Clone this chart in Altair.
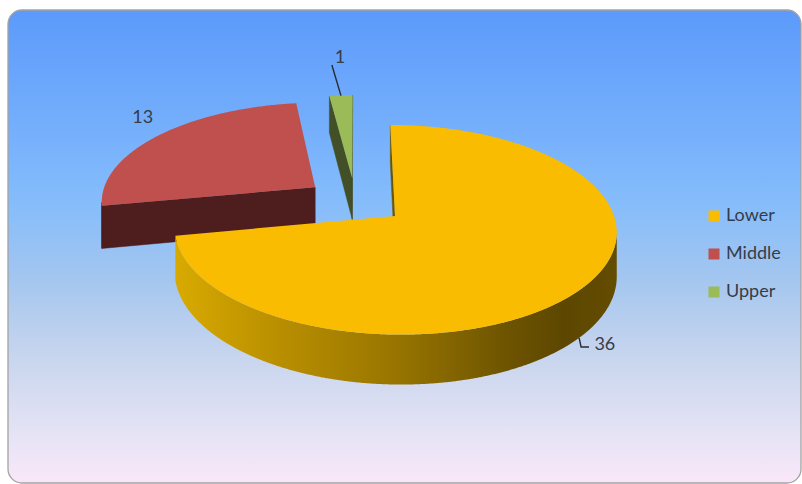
import math
import numpy as np
import pandas as pd
import altair as alt

# ---------------- data ----------------
categories = ["Lower", "Middle", "Upper"]
values = [36, 13, 1]
label_texts = ["36", "13", "1"]

# ---------------- style ----------------
top_colors = ["#f9bc00", "#c0504d", "#9bbb59"]
wall_colors = {"Lower": "#6b5608", "Middle": "#4e1e1e", "Upper": "#434f26"}
side_solid = {"Middle": "#4e1e1e", "Upper": "#434f26"}
side_gradient = alt.LinearGradient(
    gradient="linear", x1=0, y1=0, x2=1, y2=0,
    stops=[
        alt.GradientStop(color="#d8aa00", offset=0.0),
        alt.GradientStop(color="#b78d00", offset=0.25),
        alt.GradientStop(color="#987500", offset=0.5),
        alt.GradientStop(color="#6e5400", offset=0.75),
        alt.GradientStop(color="#5d4700", offset=0.88),
        alt.GradientStop(color="#644c00", offset=1.0),
    ],
)
bg_gradient = alt.LinearGradient(
    gradient="linear", x1=0, y1=0, x2=0, y2=1,
    stops=[
        alt.GradientStop(color="#5c9afb", offset=0.0),
        alt.GradientStop(color="#84bcfb", offset=0.40),
        alt.GradientStop(color="#a4c6ef", offset=0.57),
        alt.GradientStop(color="#c9d6ee", offset=0.74),
        alt.GradientStop(color="#e8e4f6", offset=0.91),
        alt.GradientStop(color="#f9e7f8", offset=1.0),
    ],
)
FONT = "Lato"
TEXT_COLOR = "#363c48"

# 3-D view parameters (in pie-radius units)
EXPLODE = 0.235   # slice explosion
PERSP = 0.13      # perspective strength
DEPTH = 0.4293    # pie thickness in projected units
START = 0.0       # first slice starts at 12 o'clock, clockwise

X_DOMAIN = [-1.617, 2.075]
Y_DOMAIN = [-2.851, 1.927]

# label layout: (radius, angle offset from slice mid, on bottom face?)
label_layout = {"Lower": (1.11, 0.4, True), "Middle": (1.22, 5.0, False), "Upper": (1.54, 0.9, False)}
leader_layout = {
    "Lower": [(1.0, 1.7, True), (1.046, 4.6, True), (1.07, 3.4, True)],
    "Upper": [(1.0, 0.0, False), (1.44, -1.1, False)],
}


def proj(X, Z, bottom=False):
    w = 1.0 + PERSP * Z
    u = X / w
    v = Z / w
    if bottom:
        v -= DEPTH / w
    return u, v


cam = (0.0, -1.0 / PERSP)
total = float(sum(values))
polys = []
labels = []
leaders = []
walls_list = []
sides_list = []
cum = 0.0
for cat, val, txt in zip(categories, values, label_texts):
    ts = START + 360.0 * cum / total
    te = ts + 360.0 * val / total
    tm = 0.5 * (ts + te)
    cum += val
    vx = EXPLODE * math.sin(math.radians(tm))
    vz = EXPLODE * math.cos(math.radians(tm))

    def P(theta, r=1.0):
        return vx + r * math.sin(math.radians(theta)), vz + r * math.cos(math.radians(theta))

    n = max(3, int(round(te - ts)) * 2 + 1)
    arc = np.linspace(ts, te, n)

    # top face
    pts = [(vx, vz)] + [P(t) for t in arc] + [(vx, vz)]
    for k, (X, Z) in enumerate(pts):
        u, v = proj(X, Z)
        polys.append({"poly": "top_" + cat, "cat": cat, "idx": k, "u": u, "v": v})

    # radial walls
    for name, th, nrm in (("ws", ts, (-math.cos(math.radians(ts)), math.sin(math.radians(ts)))),
                          ("we", te, (math.cos(math.radians(te)), -math.sin(math.radians(te))))):
        ox, oz = P(th)
        mx, mz = 0.5 * (vx + ox), 0.5 * (vz + oz)
        if nrm[0] * (cam[0] - mx) + nrm[1] * (cam[1] - mz) > 0:
            quad = [((vx, vz), False), ((ox, oz), False), ((ox, oz), True), ((vx, vz), True), ((vx, vz), False)]
            pid = name + "_" + cat
            walls_list.append((pid, cat))
            for k, ((X, Z), b) in enumerate(quad):
                u, v = proj(X, Z, b)
                polys.append({"poly": pid, "cat": cat, "idx": k, "u": u, "v": v})

    # outer side (visible part)
    vis = []
    for t in np.linspace(ts, te, int(round(te - ts)) * 4 + 2):
        s, c = math.sin(math.radians(t)), math.cos(math.radians(t))
        X, Z = P(t)
        if s * (cam[0] - X) + c * (cam[1] - Z) > 0:
            vis.append(t)
    if len(vis) >= 2:
        pid = "side_" + cat
        sides_list.append((pid, cat))
        band = [(P(t), False) for t in vis] + [(P(t), True) for t in vis[::-1]]
        band.append(band[0])
        for k, ((X, Z), b) in enumerate(band):
            u, v = proj(X, Z, b)
            polys.append({"poly": pid, "cat": cat, "idx": k, "u": u, "v": v})

    # data label
    r, dt, b = label_layout[cat]
    X, Z = P(tm + dt, r)
    u, v = proj(X, Z, b)
    labels.append({"cat": cat, "text": txt, "u": u, "v": v})
    for k, (r, dt, b) in enumerate(leader_layout.get(cat, [])):
        X, Z = P(tm + dt, r)
        u, v = proj(X, Z, b)
        leaders.append({"cat": cat, "idx": k, "u": u, "v": v})

poly_df = pd.DataFrame(polys)
label_df = pd.DataFrame(labels)
leader_df = pd.DataFrame(leaders)

xs = alt.Scale(domain=X_DOMAIN, nice=False, zero=False)
ys = alt.Scale(domain=Y_DOMAIN, nice=False, zero=False)
X_ = alt.X("u:Q", scale=xs, axis=None)
Y_ = alt.Y("v:Q", scale=ys, axis=None)

# rounded gradient panel behind the pie
panel = (
    alt.Chart(pd.DataFrame({"a": [0]}))
    .mark_rect(fill=bg_gradient, stroke="#a3a3a3", strokeWidth=1.3, cornerRadius=14)
    .encode(
        x=alt.X(datum=X_DOMAIN[0], scale=xs, axis=None),
        x2=alt.X2(datum=X_DOMAIN[1]),
        y=alt.Y(datum=Y_DOMAIN[1], scale=ys, axis=None),
        y2=alt.Y2(datum=Y_DOMAIN[0]),
    )
)

base = alt.Chart(poly_df)
layers = [panel]
for pid, cat in walls_list:
    col = wall_colors[cat]
    layers.append(
        base.transform_filter(alt.datum.poly == pid)
        .mark_line(filled=True, fill=col, stroke=col, strokeWidth=0.5)
        .encode(x=X_, y=Y_, order="idx:Q")
    )
for pid, cat in sides_list:
    if cat == "Lower":
        mk = dict(filled=True, fill=side_gradient, strokeOpacity=0)
    else:
        mk = dict(filled=True, fill=side_solid[cat], stroke=side_solid[cat], strokeWidth=0.5)
    layers.append(
        base.transform_filter(alt.datum.poly == pid)
        .mark_line(**mk)
        .encode(x=X_, y=Y_, order="idx:Q")
    )

tops = (
    base.transform_filter(alt.FieldOneOfPredicate(field="poly", oneOf=["top_" + c for c in categories]))
    .mark_line(filled=True)
    .encode(
        x=X_, y=Y_, order="idx:Q",
        color=alt.Color(
            "cat:N",
            scale=alt.Scale(domain=categories, range=top_colors),
            legend=alt.Legend(
                title=None, orient="none", legendX=697, legendY=197,
                symbolType="square", symbolSize=121, symbolStrokeWidth=0,
                labelFont=FONT, labelFontSize=18, labelColor=TEXT_COLOR,
                rowPadding=20, labelOffset=3, padding=0,
            ),
        ),
    )
)
layers.append(tops)

lead = (
    alt.Chart(leader_df)
    .mark_line(color="#262b33", strokeWidth=1.4)
    .encode(x=X_, y=Y_, order="idx:Q", detail="cat:N")
)
text = (
    alt.Chart(label_df)
    .mark_text(font=FONT, fontSize=18, color=TEXT_COLOR, align="center", baseline="middle")
    .encode(x=X_, y=Y_, text="text:N")
)
layers += [lead, text]

chart = (
    alt.layer(*layers)
    .properties(
        width=793, height=473,
        padding={"left": 8, "top": 10, "right": 1, "bottom": 1},
        autosize=alt.AutoSizeParams(type="none"),
        background="white",
    )
    .configure_view(strokeWidth=0)
)

chart.save("out.html", embed_options={"renderer": "svg", "actions": False})
